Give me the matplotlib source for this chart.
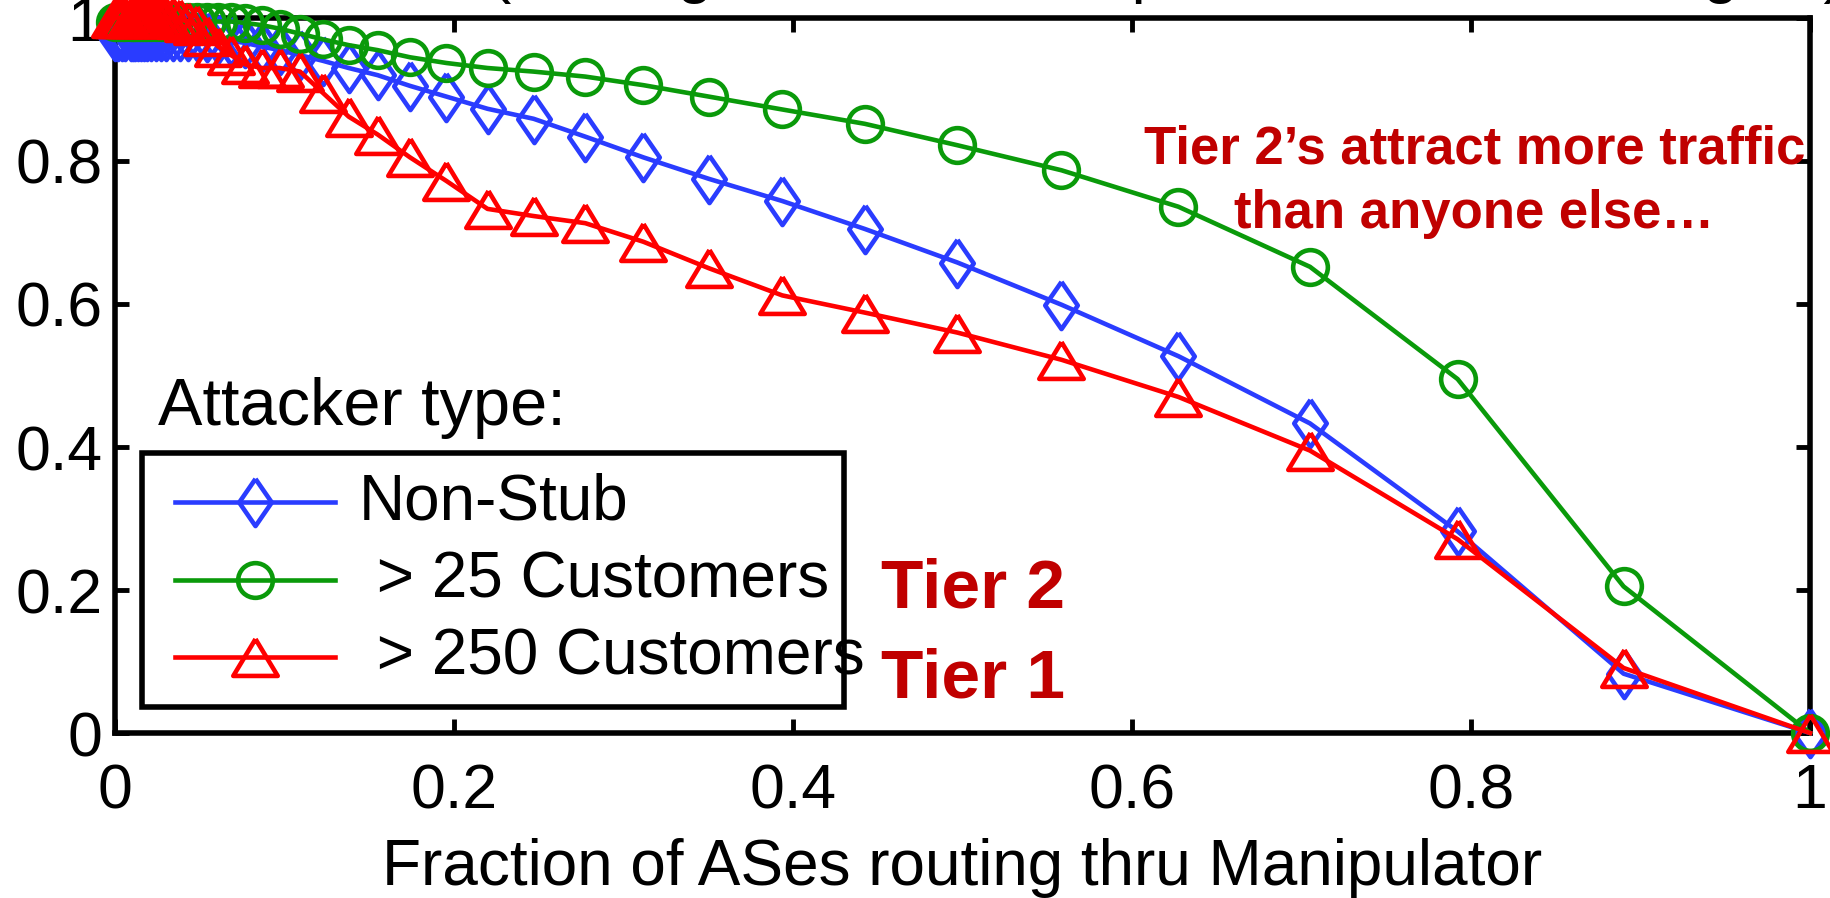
import matplotlib
matplotlib.use("Agg")
import matplotlib.pyplot as plt
from matplotlib.lines import Line2D
from matplotlib.patches import Rectangle

# fraction of ASes routing thru the manipulator (x) and CDF-like values (y)
x_frac = [0.0, 0.002, 0.004, 0.006, 0.0095, 0.0106, 0.0119, 0.0134, 0.0151, 0.0169,
          0.0190, 0.0214, 0.0240, 0.0270, 0.0303, 0.0340, 0.0382, 0.0430, 0.0483, 0.0543,
          0.0610, 0.0685, 0.0770, 0.0865, 0.0972, 0.1092, 0.1228, 0.1379, 0.1550, 0.1741,
          0.1956, 0.2198, 0.2470, 0.2775, 0.3118, 0.3504, 0.3937, 0.4423, 0.4970, 0.5584,
          0.6274, 0.7050, 0.7921, 0.8900, 1.0]

non_stub = [0.975, 0.975, 0.975, 0.975, 0.975, 0.975, 0.975, 0.975, 0.975, 0.975,
            0.975, 0.975, 0.975, 0.975, 0.975, 0.975, 0.975, 0.975, 0.975, 0.973,
            0.971, 0.968, 0.965, 0.960, 0.955, 0.948, 0.940, 0.930, 0.920, 0.905,
            0.890, 0.873, 0.859, 0.834, 0.805, 0.775, 0.744, 0.705, 0.658, 0.599,
            0.527, 0.433, 0.282, 0.083, 0.0]

cust_25 = [0.995, 0.995, 0.995, 0.995, 0.995, 0.995, 0.995, 0.995, 0.995, 0.995,
           0.995, 0.995, 0.995, 0.995, 0.995, 0.995, 0.995, 0.995, 0.995, 0.995,
           0.995, 0.995, 0.993, 0.990, 0.985, 0.978, 0.970, 0.962, 0.955, 0.945,
           0.937, 0.930, 0.925, 0.918, 0.906, 0.890, 0.872, 0.852, 0.822, 0.787,
           0.736, 0.652, 0.495, 0.205, 0.0]

cust_250 = [1.0, 1.0, 1.0, 1.0, 1.0, 1.0, 1.0, 1.0, 1.0, 1.0,
            1.0, 1.0, 1.0, 1.0, 1.0, 1.0, 0.998, 0.995, 0.99, 0.975,
            0.96, 0.948, 0.935, 0.930, 0.930, 0.925, 0.895, 0.862, 0.837, 0.805,
            0.772, 0.733, 0.723, 0.713, 0.687, 0.650, 0.612, 0.588, 0.560, 0.522,
            0.470, 0.395, 0.271, 0.091, 0.0]

labels = ['Non-Stub', ' > 25 Customers', ' > 250 Customers']
colors = ['#2a3cff', '#0a9a0a', '#ff0000']

ticks = [0, 0.2, 0.4, 0.6, 0.8, 1]
tick_labels = ['0', '0.2', '0.4', '0.6', '0.8', '1']

plt.rcParams['font.family'] = ['Liberation Sans', 'DejaVu Sans']

# MATLAB-ish markers: tall diamond, wide triangle
diamond = [(0, 1), (0.69, 0), (0, -1), (-0.69, 0), (0, 1)]
triangle = [(0, 0.83), (1, -0.83), (-1, -0.83), (0, 0.83)]
markers = [diamond, 'o', triangle]
msizes = [34, 25, 32]
lw = 3.3

fig = plt.figure(figsize=(18.3, 8.98), dpi=100)
ax = fig.add_axes([0.0628, 0.1837, 0.9263, 0.7963])

series = [non_stub, cust_25, cust_250]
for ys, c, m, ms in zip(series, colors, markers, msizes):
    ax.plot(x_frac, ys, color=c, lw=lw, marker=m, ms=ms, mfc='none',
            mec=c, mew=lw, clip_on=False, zorder=3)

ax.set_xlim(0, 1)
ax.set_ylim(0, 1)
ax.set_xticks(ticks)
ax.set_xticklabels(tick_labels)
ax.set_yticks(ticks)
ax.set_yticklabels(tick_labels)
ax.tick_params(direction='in', length=10, width=3.5, labelsize=45,
               top=True, right=True)
ax.tick_params(axis='x', pad=21)
ax.tick_params(axis='y', pad=9)
for s in ax.spines.values():
    s.set_linewidth(4)
ax.set_xlabel('Fraction of ASes routing thru Manipulator', fontsize=46, labelpad=12)

# title, mostly cut off by the top edge of the figure
fig.text(0.268, 1.0105, '(Averaged over all the pairs of ASes in a region)',
         fontsize=46, ha='left', va='baseline')

# hand-built legend like the MATLAB one
ax.text(0.0254, 0.431, 'Attacker type:', transform=ax.transAxes, fontsize=48,
        ha='left', va='baseline')
ax.add_patch(Rectangle((0.016, 0.036), 0.414, 0.356, transform=ax.transAxes,
                       fill=True, fc='white', ec='black', lw=4, zorder=4))
rows = [0.323, 0.214, 0.106]
for yy, lab, c, m, ms in zip(rows, labels, colors, markers, msizes):
    ax.add_line(Line2D([0.0354, 0.130], [yy, yy], transform=ax.transAxes,
                       color=c, lw=lw, zorder=5))
    ax.add_line(Line2D([0.0826], [yy], transform=ax.transAxes, marker=m, ms=ms,
                       mfc='none', mec=c, mew=lw, zorder=5))
    ax.text(0.144, yy, lab, transform=ax.transAxes, fontsize=46,
            ha='left', va='center', zorder=6)

red = '#c00000'
ax.text(0.802, 0.796, 'Tier 2\u2019s attract more traffic', transform=ax.transAxes,
        fontsize=38, fontweight='bold', color=red, ha='center', va='baseline', zorder=6)
ax.text(0.802, 0.706, 'than anyone else\u2026', transform=ax.transAxes,
        fontsize=38, fontweight='bold', color=red, ha='center', va='baseline', zorder=6)
ax.text(0.452, 0.176, 'Tier 2', transform=ax.transAxes, fontsize=50,
        fontweight='bold', color=red, ha='left', va='baseline', zorder=6)
ax.text(0.452, 0.050, 'Tier 1', transform=ax.transAxes, fontsize=50,
        fontweight='bold', color=red, ha='left', va='baseline', zorder=6)

fig.savefig('out.png', dpi=100)
